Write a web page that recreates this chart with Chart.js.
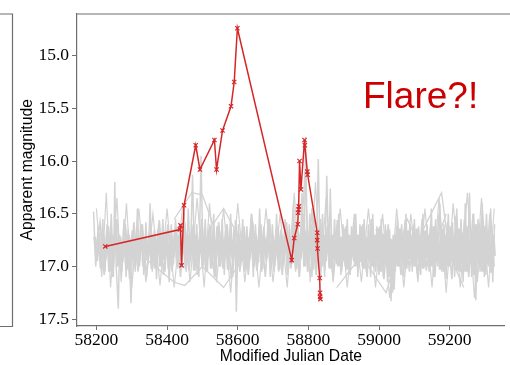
<!DOCTYPE html>
<html><head><meta charset="utf-8">
<script src="https://cdn.jsdelivr.net/npm/chart.js@4.4.1/dist/chart.umd.min.js"></script>
<style>html,body{margin:0;padding:0;background:#fff}canvas{display:block}</style>
</head><body>
<canvas id="c" width="510" height="365"></canvas>
<script>
// ---- data ----
const xTicks = [58200, 58400, 58600, 58800, 59000, 59200];
const yTicks = [15.0, 15.5, 16.0, 16.5, 17.0, 17.5];

const redX = [58225, 58436, 58438, 58441, 58448, 58481, 58493, 58534, 58540, 58557, 58581, 58590, 58599,
              58753, 58760, 58770, 58771, 58772, 58773, 58775, 58779, 58789, 58790, 58797, 58798,
              58825, 58825, 58826, 58832, 58833, 58833, 58834];
const redY = [16.81, 16.65, 16.61, 16.99, 16.42, 15.85, 16.08, 15.80, 16.08, 15.71, 15.48, 15.25, 14.74,
              16.94, 16.73, 16.60, 16.49, 16.46, 16.43, 16.00, 16.27, 15.80, 15.85, 16.10, 16.13,
              16.68, 16.75, 16.83, 17.11, 17.25, 17.29, 17.31];

const grayA = [[58192,16.48],[58198,17.0],[58205,16.62],[58211,16.95],[58218,16.55],[58224,17.05],[58230,16.6],[58236,16.98],[58242,16.5],[58248,17.1],[58252,16.2],[58256,17.0],[58262,17.4],[58266,16.7],[58272,17.05],[58278,16.55],[58284,17.1],[58290,16.65],[58298,17.35],[58303,16.7],[58310,17.05],[58316,16.45],[58322,17.0],[58328,16.62],[58334,17.08],[58340,16.58],[58346,16.98],[58352,16.4],[58358,17.05],[58364,16.65],[58370,17.12],[58376,16.6],[58382,16.95],[58388,16.55],[58394,17.05],[58400,16.7],[58406,17.15],[58412,16.6],[58418,16.98],[58424,16.55],[58430,17.02],[58436,16.62],[58442,17.0],[58448,16.5],[58454,17.05],[58460,16.45],[58466,16.95],[58472,16.13],[58478,17.0],[58484,16.6],[58490,17.1],[58496,15.95],[58502,16.95],[58508,16.55],[58514,17.05],[58520,16.6],[58526,16.98],[58532,16.5],[58538,17.1],[58544,16.62],[58550,17.0],[58556,16.55],[58562,17.08],[58568,16.6],[58574,16.95],[58580,16.5],[58586,17.1],[58592,16.65],[58596,17.43],[58602,16.6],[58608,17.0],[58614,16.55],[58620,17.05],[58626,16.62],[58632,16.98],[58638,16.5],[58644,17.1],[58650,16.6],[58656,17.0],[58662,16.45],[58668,17.05],[58674,16.62],[58680,16.95],[58686,16.55],[58692,17.1],[58698,16.6],[58704,17.0],[58710,16.5],[58716,17.05],[58722,16.65],[58728,16.98],[58734,16.55],[58740,17.08],[58746,16.6],[58752,17.0],[58758,16.4],[58764,17.05],[58770,16.6],[58776,16.95],[58782,16.3],[58788,17.0],[58792,15.77],[58798,17.05],[58804,16.5],[58810,17.1],[58816,16.55],[58822,17.0],[58828,15.98],[58834,17.05],[58840,16.5],[58846,17.1],[58852,16.14],[58858,17.0],[58862,16.26],[58868,17.05],[58874,16.55],[58880,16.98],[58886,16.5],[58892,17.08],[58898,16.6],[58904,17.0],[58910,16.55],[58916,17.05],[58922,16.62],[58928,16.95],[58934,16.5],[58940,17.1],[58946,16.6],[58952,17.0],[58958,16.55],[58964,17.05],[58970,16.6],[58976,17.1],[58982,16.5],[58988,17.0],[58994,16.62],[59000,17.08],[59006,16.55],[59012,17.1],[59018,16.6],[59024,17.15],[59030,16.65],[59034,17.33],[59040,16.7],[59046,17.05],[59052,16.55],[59058,17.0],[59064,16.6],[59070,17.1],[59076,16.5],[59082,16.98],[59088,16.6],[59094,17.05],[59100,16.55],[59106,17.0],[59112,16.62],[59118,17.08],[59124,16.5],[59130,17.0],[59136,16.6],[59142,17.05],[59148,16.45],[59154,17.1],[59160,16.55],[59166,17.0],[59172,16.4],[59178,17.05],[59184,16.6],[59190,17.12],[59196,16.5],[59202,17.0],[59208,16.58],[59214,17.1],[59220,16.45],[59226,17.05],[59232,16.55],[59238,17.15],[59244,16.4],[59250,17.05],[59256,16.3],[59262,17.1],[59268,16.5],[59274,17.32],[59280,16.55],[59286,17.05],[59292,16.4],[59298,17.1],[59304,16.5],[59310,17.0],[59316,16.45],[59322,17.15],[59327,16.6]];

const grayB = [[58195,16.72],[58201,16.95],[58207,16.68],[58213,17.02],[58219,16.7],[58225,16.93],[58231,16.66],[58237,17.05],[58243,16.7],[58249,16.9],[58255,16.62],[58261,17.0],[58267,16.72],[58273,16.96],[58279,16.64],[58285,17.03],[58291,16.7],[58297,16.92],[58303,16.66],[58309,16.99],[58315,16.7],[58321,16.95],[58327,16.6],[58333,17.0],[58339,16.72],[58345,16.93],[58351,16.68],[58357,17.02],[58363,16.7],[58369,16.96],[58375,16.65],[58381,17.0],[58387,16.72],[58393,16.94],[58399,16.66],[58405,17.02],[58411,16.7],[58417,16.92],[58423,16.64],[58429,17.0],[58435,16.7],[58441,16.95],[58447,16.62],[58453,17.02],[58459,16.7],[58465,16.93],[58471,16.66],[58477,17.04],[58483,16.7],[58489,16.96],[58495,16.64],[58501,17.0],[58507,16.72],[58513,16.92],[58519,16.65],[58525,17.02],[58531,16.7],[58537,16.95],[58543,16.62],[58549,17.0],[58555,16.72],[58561,16.94],[58567,16.66],[58573,17.03],[58579,16.7],[58585,16.92],[58591,16.64],[58597,17.0],[58603,16.7],[58609,16.95],[58615,16.66],[58621,17.02],[58627,16.72],[58633,16.93],[58639,16.64],[58645,17.0],[58651,16.7],[58657,16.96],[58663,16.62],[58669,17.02],[58675,16.72],[58681,16.92],[58687,16.66],[58693,17.0],[58699,16.7],[58705,16.95],[58711,16.64],[58717,17.03],[58723,16.7],[58729,16.92],[58735,16.66],[58741,17.0],[58747,16.72],[58753,16.95],[58759,16.6],[58765,17.02],[58771,16.68],[58777,16.93],[58783,16.62],[58789,17.0],[58795,16.66],[58801,16.95],[58807,16.6],[58813,17.03],[58819,16.7],[58825,16.92],[58831,16.64],[58837,17.0],[58843,16.7],[58849,16.95],[58855,16.62],[58861,17.02],[58867,16.7],[58873,16.93],[58879,16.66],[58885,17.0],[58891,16.72],[58897,16.95],[58903,16.64],[58909,17.03],[58915,16.7],[58921,16.92],[58927,16.66],[58933,17.0],[58939,16.7],[58945,16.96],[58951,16.62],[58957,17.02],[58963,16.72],[58969,16.93],[58975,16.66],[58981,17.0],[58987,16.7],[58993,16.95],[58999,16.64],[59005,17.05],[59011,16.7],[59017,16.98],[59023,16.66],[59029,17.1],[59035,16.75],[59041,17.22],[59047,16.7],[59053,17.0],[59059,16.64],[59065,16.96],[59071,16.7],[59077,17.02],[59083,16.66],[59089,16.93],[59095,16.7],[59101,17.0],[59107,16.64],[59113,16.95],[59119,16.72],[59125,17.02],[59131,16.66],[59137,16.92],[59143,16.7],[59149,17.0],[59155,16.62],[59161,16.96],[59167,16.7],[59173,17.03],[59179,16.64],[59185,16.93],[59191,16.7],[59197,17.0],[59203,16.62],[59209,16.96],[59215,16.7],[59221,17.04],[59227,16.64],[59233,16.95],[59239,16.68],[59245,17.05],[59251,16.62],[59257,16.98],[59263,16.66],[59269,17.08],[59275,16.6],[59281,16.96],[59287,16.66],[59293,17.05],[59299,16.62],[59305,16.98],[59311,16.66],[59317,17.06],[59323,16.7],[59327,16.9]];

const grayG = [[58198,16.85],[58210,16.58],[58222,17.08],[58234,16.62],[58246,17.1],[58258,16.55],[58270,17.0],[58282,16.6],[58294,17.12],[58306,16.58],[58318,17.05],[58330,16.6],[58342,17.1],[58354,16.62],[58366,17.02],[58378,16.56],[58390,17.08],[58402,16.6],[58414,17.05],[58426,16.62],[58438,17.1],[58450,16.58],[58462,17.04],[58474,16.6],[58486,17.08],[58498,16.55],[58510,17.05],[58522,16.62],[58534,17.1],[58546,16.58],[58558,17.02],[58570,16.6],[58582,17.12],[58594,16.56],[58606,17.05],[58618,16.62],[58630,17.08],[58642,16.58],[58654,17.04],[58666,16.6],[58678,17.1],[58690,16.55],[58702,17.05],[58714,16.62],[58726,17.08],[58738,16.58],[58750,17.02],[58762,16.6],[58774,17.1],[58786,16.5],[58798,17.05],[58810,16.45],[58822,17.08],[58834,16.55],[58846,17.04],[58858,16.6],[58870,17.1],[58882,16.56],[58894,17.05],[58906,16.62],[58918,17.08],[58930,16.58],[58942,17.02],[58954,16.6],[58966,17.1],[58978,16.55],[58990,17.05],[59002,16.62],[59014,17.12],[59026,16.6],[59038,17.25],[59050,16.62],[59062,17.08],[59074,16.56],[59086,17.05],[59098,16.6],[59110,17.1],[59122,16.55],[59134,17.04],[59146,16.6],[59158,17.1],[59170,16.5],[59182,17.05],[59194,16.58],[59206,17.12],[59218,16.52],[59230,17.05],[59242,16.55],[59254,17.1],[59266,16.5],[59278,17.15],[59290,16.55],[59302,17.08],[59314,16.5],[59326,17.0]];

const grayH = [[58200,16.45],[58215,17.1],[58228,16.3],[58240,17.2],[58258,16.35],[58270,17.15],[58285,16.4],[58300,17.2],[58320,16.45],[58340,17.15],[58360,16.5],[58380,17.18],[58400,16.45],[58420,17.2],[58445,16.4],[58465,17.15],[58485,16.35],[58505,17.2],[58520,16.4],[58540,17.15],[58560,16.45],[58580,17.25],[58600,16.4],[58620,17.15],[58640,16.5],[58660,17.2],[58680,16.45],[58700,17.15],[58720,16.5],[58740,17.2],[58760,16.3],[58775,17.1],[58790,16.1],[58805,17.15],[58820,16.2],[58835,17.1],[58850,16.35],[58870,17.15],[58890,16.45],[58910,17.2],[58930,16.5],[58950,17.15],[58970,16.45],[58990,17.2],[59010,16.5],[59030,17.3],[59050,16.45],[59070,17.2],[59090,16.5],[59110,17.15],[59130,16.45],[59150,17.2],[59170,16.35],[59190,17.25],[59210,16.4],[59230,17.2],[59250,16.3],[59270,17.3],[59290,16.35],[59310,17.2],[59326,16.45]];

const grayC = [[58420,16.55],[58470,16.3],[58500,16.32],[58530,16.6],[58560,16.45],[58600,16.7]];
const grayD = [[58330,16.9],[58420,17.15],[58450,17.18],[58500,17.0],[58560,17.2],[58620,16.9]];
const grayE = [[58990,16.65],[59060,16.8],[59110,16.75],[59177,16.3],[59200,16.9],[59240,17.2]];
const grayF = [[58880,17.2],[58950,16.9],[59020,17.25],[59080,16.55],[59140,17.0],[59190,16.5]];

// ---- chart ----
const toPts = a => a.map(p => ({x: p[0], y: p[1]}));
const GRAY = '#d3d3d3';
const grayStyle = (a, w) => ({data: toPts(a), borderColor: GRAY, borderWidth: w, pointRadius: 0, order: 1, tension: 0});
const grayDs = [
  grayStyle(grayB, 2.8), grayStyle(grayG, 1.6), grayStyle(grayA, 1.5), grayStyle(grayH, 1.2),
  grayStyle(grayC, 1.3), grayStyle(grayD, 1.3), grayStyle(grayE, 1.3), grayStyle(grayF, 1.3)
];
const redDs = {
  data: redX.map((x, i) => ({x, y: redY[i]})),
  borderColor: '#d62728', backgroundColor: '#d62728', borderWidth: 1.5,
  pointStyle: 'crossRot', pointRadius: 3, pointBorderColor: '#d62728', pointBorderWidth: 1.2,
  order: 0, tension: 0
};

const FRAME = '#6e6e6e';
const decor = {
  id: 'decor',
  afterDraw(chart) {
    const ctx = chart.ctx, a = chart.chartArea;
    ctx.save();
    ctx.strokeStyle = FRAME; ctx.lineWidth = 1.2;
    ctx.beginPath();
    ctx.moveTo(a.left, a.top + 0.5); ctx.lineTo(510, a.top + 0.5);
    // partial neighbouring panel on the left
    ctx.moveTo(0, a.top + 0.5); ctx.lineTo(12.5, a.top + 0.5);
    ctx.lineTo(12.5, a.bottom + 0.5); ctx.lineTo(0, a.bottom + 0.5);
    ctx.stroke();
    ctx.fillStyle = '#cc0000';
    ctx.font = '37px "Liberation Sans", Arial, sans-serif';
    ctx.textBaseline = 'alphabetic';
    ctx.fillText('Flare?!', 363, 108);
    ctx.restore();
  }
};

new Chart(document.getElementById('c'), {
  type: 'line',
  data: {datasets: [redDs, ...grayDs]},
  options: {
    responsive: false, animation: false, devicePixelRatio: 1,
    layout: {padding: {top: 8, left: 0, right: 0, bottom: 0}},
    plugins: {legend: {display: false}, tooltip: {enabled: false}},
    scales: {
      x: {
        type: 'linear', min: 58145, max: 59356,
        afterFit: s => { s.height = 39; },
        afterBuildTicks: s => { s.ticks = xTicks.map(v => ({value: v})); },
        grid: {drawOnChartArea: false, drawTicks: true, tickLength: 4, color: FRAME},
        border: {color: FRAME, width: 1.2},
        ticks: {color: '#000', padding: 0, maxRotation: 0, autoSkip: false,
                font: {family: '"Liberation Serif", serif', size: 17.5},
                callback: v => String(v)},
        title: {display: true, text: 'Modified Julian Date', color: '#000',
                font: {family: '"Liberation Sans", Arial, sans-serif', size: 15.7, lineHeight: 1},
                padding: {top: 0, bottom: 0}}
      },
      y: {
        type: 'linear', reverse: true, min: 14.6, max: 17.565,
        afterFit: s => { s.width = 77; },
        afterBuildTicks: s => { s.ticks = yTicks.map(v => ({value: v})); },
        grid: {drawOnChartArea: false, drawTicks: true, tickLength: 5, color: FRAME},
        border: {color: FRAME, width: 1.2},
        ticks: {color: '#000', padding: 3, autoSkip: false,
                font: {family: '"Liberation Serif", serif', size: 17.5},
                callback: v => Number(v).toFixed(1)},
        title: {display: true, text: 'Apparent magnitude', color: '#000',
                font: {family: '"Liberation Sans", Arial, sans-serif', size: 15.7, lineHeight: 1},
                padding: {top: 20, bottom: 0}}
      }
    }
  },
  plugins: [decor]
});
</script>
</body></html>
